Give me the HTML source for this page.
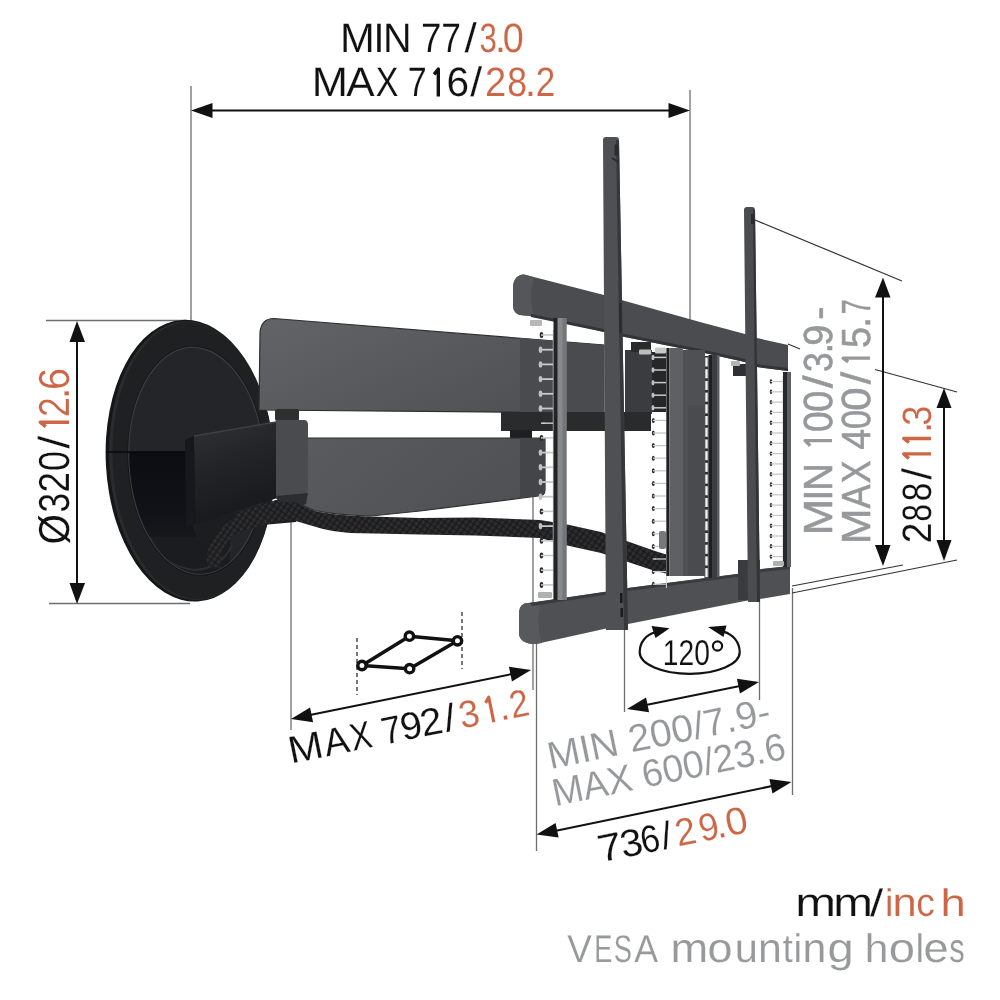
<!DOCTYPE html>
<html><head><meta charset="utf-8">
<style>
html,body{margin:0;padding:0;background:#fff;}
body{width:1000px;height:1000px;overflow:hidden;}
svg{display:block;-webkit-font-smoothing:antialiased;}
text{text-rendering:geometricPrecision;stroke:#fff;stroke-width:0.15px;}
svg{will-change:transform;}
text{font-family:"Liberation Sans",sans-serif;}
</style></head>
<body>
<svg width="1000" height="1000" viewBox="0 0 1000 1000">
<defs>
<linearGradient id="shF" x1="0" y1="0" x2="0.3" y2="1">
<stop offset="0" stop-color="#303134"/><stop offset="0.5" stop-color="#222326"/><stop offset="1" stop-color="#18191c"/>
</linearGradient>
<linearGradient id="armU" x1="0" y1="0" x2="1" y2="0.6">
<stop offset="0" stop-color="#636467"/><stop offset="0.45" stop-color="#5a5b5e"/><stop offset="1" stop-color="#505154"/>
</linearGradient>
<linearGradient id="armL" x1="0" y1="0" x2="1" y2="0.4">
<stop offset="0" stop-color="#5a5b5e"/><stop offset="1" stop-color="#505154"/>
</linearGradient>
<linearGradient id="darkG" x1="0" y1="0" x2="0" y2="1">
<stop offset="0" stop-color="#0b0d13"/><stop offset="0.7" stop-color="#101218"/><stop offset="1" stop-color="#17181c"/>
</linearGradient>
<pattern id="braid" width="5" height="5" patternUnits="userSpaceOnUse" patternTransform="rotate(35)">
<rect width="5" height="5" fill="#202022"/><rect x="0" y="0" width="2.5" height="5" fill="#2f2f32"/><rect x="0" y="2" width="5" height="0.8" fill="#151516"/>
</pattern>
</defs>
<rect width="1000" height="1000" fill="#fff"/>

<!-- ===== extension lines (gray) ===== -->
<g stroke="#6e6e6e" stroke-width="1.3" fill="none">
<line x1="191" y1="86" x2="191" y2="322"/>
<line x1="690" y1="90" x2="690" y2="330"/>
<line x1="46" y1="320.5" x2="186" y2="320.5"/>
<line x1="49" y1="603.5" x2="190" y2="603.5"/>
<line x1="291" y1="508" x2="291" y2="730"/>
<line x1="533" y1="497" x2="533" y2="690"/>
<line x1="536.5" y1="644" x2="536.5" y2="851"/>
<line x1="624.5" y1="626" x2="624.5" y2="712"/>
<line x1="759.5" y1="590" x2="759.5" y2="700"/>
<line x1="792.5" y1="588" x2="792.5" y2="795"/>
</g>
<g stroke="#333" stroke-width="1.2" fill="none">
<line x1="755" y1="220" x2="902" y2="281"/>
<line x1="788" y1="344" x2="800" y2="349"/>
<line x1="875" y1="369.5" x2="957" y2="392"/>
<line x1="792" y1="586" x2="903" y2="565"/>
<line x1="792" y1="593" x2="957" y2="560"/>
</g>

<!-- ===== wall plate ===== -->
<g transform="translate(190.1,460.7) rotate(-3)">
<ellipse cx="0" cy="0" rx="84.3" ry="141" fill="#151618"/>
<ellipse cx="1.5" cy="0" rx="82.3" ry="139.5" fill="#2a2b2e"/>
<ellipse cx="3" cy="0" rx="80.5" ry="138.5" fill="#1f2022"/>
</g>
<g transform="translate(196.5,460.8) rotate(-3)">
<ellipse cx="0" cy="0" rx="69" ry="115" fill="#141517"/>
<ellipse cx="0" cy="0" rx="67.5" ry="113.5" fill="#242528"/>
<ellipse cx="0" cy="0" rx="67.5" ry="113.5" fill="none" stroke="#3c3d41" stroke-width="1.2"/>
</g>
<clipPath id="innerClip"><ellipse cx="0" cy="0" rx="67" ry="113" transform="translate(196.5,460.8) rotate(-3)"/></clipPath>
<g clip-path="url(#innerClip)">
<rect x="120" y="452" width="100" height="86" fill="url(#darkG)"/>
<path d="M140,537 L230,537 L230,580 L140,580 Z" fill="#1b1c20"/>
<path d="M150,537 Q160,566 195,570 Q222,568 232,545" fill="none" stroke="#2c2d31" stroke-width="2"/>
</g>
<line x1="106" y1="452" x2="205" y2="452" stroke="#08080a" stroke-width="1.6"/>

<!-- ===== upper arm ===== -->
<path d="M274,318.5 L604,345 L604,413 L259,410 L260,333 Q261,318.5 274,318.5 Z" fill="url(#armU)" stroke="#2e2f31" stroke-width="1.2"/>
<path d="M520,338 L604,345 L604,413 L520,412 Z" fill="#4a4b4e"/>
<rect x="625" y="350" width="27" height="64" fill="#3b3c3f"/>
<rect x="652" y="352" width="14" height="60" fill="#262729"/>
<!-- elbow block under upper arm -->
<rect x="501" y="412" width="150" height="19" fill="#2a2b2d"/>
<rect x="510" y="430" width="22" height="9" fill="#1e1f21"/>
<!-- pivot at shoulder -->
<rect x="275" y="409" width="24" height="12" rx="2" fill="#2e2f31"/>

<!-- ===== lower arm ===== -->
<path d="M298,438 L545,438 L545,490 Q545,496 538,496 L420,511 L371,516 Q336,515 315,510.5 Q302,506 297,502 L298,438 Z" fill="url(#armL)" stroke="#2e2f31" stroke-width="1.2"/>
<path d="M520,438 L545,438 L545,490 Q545,496 538,496 L520,498 Z" fill="#444548"/>

<!-- ===== shoulder ===== -->
<path d="M185,440 L194,436 L195.5,524.5 L186,528 Z" fill="#17181b"/>
<path d="M194,436 L279,421.5 L279,497.5 L195.5,524.5 Z" fill="url(#shF)"/>
<path d="M194,436 L279,421.5" stroke="#3e3f42" stroke-width="1.5"/>
<path d="M276,420 L304,420 Q308,420 308,425 L308,489 Q308,496 301,496.5 L276,499 Z" fill="#4a4b4e"/>
<path d="M192,525 L280,499 L300,512 L296,522 L250,526 L200,546 Z" fill="#1c1d1f"/>

<path d="M276,496 L308,493 L306,504 L296,508 L280,506 Z" fill="#2c2d30"/>
<!-- ===== cable ===== -->
<path d="M236,513 L278,499.5 L283,502 Q292,502 297,503 Q305,507 315,511 Q336,515.5 371,516.5 L420,518 L475,517.5 L540,520 L565,524 L601,532 L655,551 L668,555 L668,574 L655,571 L601,553 L565,545 L540,538 L475,535.5 L420,534.5 L350,533 Q330,531 322,528.8 L294,520.4 L283,520 L240,521 Z" fill="url(#braid)"/>
<path d="M292,506 C265,508 245,512 232,520 C218,528 205,545 207,566 L221,568 C220,552 225,540 238,533 C255,526 275,522 294,519 Z" fill="url(#braid)"/>

<!-- ===== top crossbar ===== -->
<path d="M524,274.6 L604,295 L625,301 L700,322 L745,334 L757,338 L788,345 L788,371 L757,367 L745,362 L700,352 L625,337 L604,332 L543,317.5 L520,315 Q513,313 513,305 L513,287 Q514,275 524,274.6 Z" fill="#4b4c4f"/>
<path d="M524,274.6 Q514,275 513,287 L513,305 Q513,313 520,315 L535,316.6 Q528,300 534,277.2 Z" fill="#555659"/>
<path d="M604,332 L625,337 L700,352 L745,362 L757,367 L788,371 L788,368 L757,364 L745,359 L700,349 L625,334 L604,329 L531,314 L531,317 Z" fill="#333437"/>

<!-- ===== bottom crossbar ===== -->
<path d="M528,603 L604,592 L628,588 L745,573 L762,569 L790,566 L790,594 L760,599 L745,601 L628,624 L604,629 L536,644 Q520,644 519,634 L519,612 Q520,603 528,603 Z" fill="#4f5053"/>
<path d="M528,603 Q520,603 519,612 L519,634 Q520,644 536,644 L542,643 Q535,622 541,602 Z" fill="#58595c"/>
<path d="M530,603 L604,592 L628,588 L745,573 L762,569 L790,566 L790,569 L762,572 L745,576 L628,591 L604,595 L532,606 Z" fill="#3a3b3e"/>

<!-- ===== ladders (behind rails) ===== -->
<line x1="553.5" y1="330" x2="553.5" y2="598" stroke="#c8c8c8" stroke-width="1.4"/>
<line x1="541.5" y1="335.0" x2="553.0" y2="335.0" stroke="#c4c5c7" stroke-width="1.5"/>
<ellipse cx="541.5" cy="335.0" rx="1.8" ry="3.0" fill="#2a2a2c"/>
<line x1="541.0" y1="335.0" x2="544.5" y2="335.0" stroke="#d8d8d8" stroke-width="1.4"/>
<line x1="540.5" y1="349.7" x2="553.0" y2="349.7" stroke="#c8c9cb" stroke-width="1.8"/>
<ellipse cx="540.5" cy="349.7" rx="1.8" ry="3.2" fill="#bfc0c2"/>
<line x1="540.5" y1="364.4" x2="553.0" y2="364.4" stroke="#c8c9cb" stroke-width="1.8"/>
<ellipse cx="540.5" cy="364.4" rx="1.8" ry="3.2" fill="#bfc0c2"/>
<line x1="540.5" y1="379.1" x2="553.0" y2="379.1" stroke="#c8c9cb" stroke-width="1.8"/>
<ellipse cx="540.5" cy="379.1" rx="1.8" ry="3.2" fill="#bfc0c2"/>
<line x1="540.5" y1="393.8" x2="553.0" y2="393.8" stroke="#c8c9cb" stroke-width="1.8"/>
<ellipse cx="540.5" cy="393.8" rx="1.8" ry="3.2" fill="#bfc0c2"/>
<line x1="540.5" y1="408.5" x2="553.0" y2="408.5" stroke="#c8c9cb" stroke-width="1.8"/>
<ellipse cx="540.5" cy="408.5" rx="1.8" ry="3.2" fill="#bfc0c2"/>
<line x1="541.5" y1="423.2" x2="553.0" y2="423.2" stroke="#c4c5c7" stroke-width="1.5"/>
<ellipse cx="541.5" cy="423.2" rx="1.8" ry="3.0" fill="#2a2a2c"/>
<line x1="541.0" y1="423.2" x2="544.5" y2="423.2" stroke="#d8d8d8" stroke-width="1.4"/>
<line x1="541.5" y1="437.9" x2="553.0" y2="437.9" stroke="#c4c5c7" stroke-width="1.5"/>
<ellipse cx="541.5" cy="437.9" rx="1.8" ry="3.0" fill="#2a2a2c"/>
<line x1="541.0" y1="437.9" x2="544.5" y2="437.9" stroke="#d8d8d8" stroke-width="1.4"/>
<line x1="540.5" y1="452.6" x2="553.0" y2="452.6" stroke="#c8c9cb" stroke-width="1.8"/>
<ellipse cx="540.5" cy="452.6" rx="1.8" ry="3.2" fill="#bfc0c2"/>
<line x1="540.5" y1="467.3" x2="553.0" y2="467.3" stroke="#c8c9cb" stroke-width="1.8"/>
<ellipse cx="540.5" cy="467.3" rx="1.8" ry="3.2" fill="#bfc0c2"/>
<line x1="540.5" y1="482.0" x2="553.0" y2="482.0" stroke="#c8c9cb" stroke-width="1.8"/>
<ellipse cx="540.5" cy="482.0" rx="1.8" ry="3.2" fill="#bfc0c2"/>
<line x1="540.5" y1="496.7" x2="553.0" y2="496.7" stroke="#c8c9cb" stroke-width="1.8"/>
<ellipse cx="540.5" cy="496.7" rx="1.8" ry="3.2" fill="#bfc0c2"/>
<line x1="541.5" y1="511.4" x2="553.0" y2="511.4" stroke="#c4c5c7" stroke-width="1.5"/>
<ellipse cx="541.5" cy="511.4" rx="1.8" ry="3.0" fill="#2a2a2c"/>
<line x1="541.0" y1="511.4" x2="544.5" y2="511.4" stroke="#d8d8d8" stroke-width="1.4"/>
<line x1="540.5" y1="526.1" x2="553.0" y2="526.1" stroke="#c8c9cb" stroke-width="1.8"/>
<ellipse cx="540.5" cy="526.1" rx="1.8" ry="3.2" fill="#bfc0c2"/>
<line x1="541.5" y1="540.8" x2="553.0" y2="540.8" stroke="#c4c5c7" stroke-width="1.5"/>
<ellipse cx="541.5" cy="540.8" rx="1.8" ry="3.0" fill="#2a2a2c"/>
<line x1="541.0" y1="540.8" x2="544.5" y2="540.8" stroke="#d8d8d8" stroke-width="1.4"/>
<line x1="541.5" y1="555.5" x2="553.0" y2="555.5" stroke="#c4c5c7" stroke-width="1.5"/>
<ellipse cx="541.5" cy="555.5" rx="1.8" ry="3.0" fill="#2a2a2c"/>
<line x1="541.0" y1="555.5" x2="544.5" y2="555.5" stroke="#d8d8d8" stroke-width="1.4"/>
<line x1="541.5" y1="570.2" x2="553.0" y2="570.2" stroke="#c4c5c7" stroke-width="1.5"/>
<ellipse cx="541.5" cy="570.2" rx="1.8" ry="3.0" fill="#2a2a2c"/>
<line x1="541.0" y1="570.2" x2="544.5" y2="570.2" stroke="#d8d8d8" stroke-width="1.4"/>
<line x1="541.5" y1="584.9" x2="553.0" y2="584.9" stroke="#c4c5c7" stroke-width="1.5"/>
<ellipse cx="541.5" cy="584.9" rx="1.8" ry="3.0" fill="#2a2a2c"/>
<line x1="541.0" y1="584.9" x2="544.5" y2="584.9" stroke="#d8d8d8" stroke-width="1.4"/>
<line x1="666.5" y1="352" x2="666.5" y2="588" stroke="#cfcfcf" stroke-width="1"/>
<line x1="653.0" y1="357.4" x2="667.0" y2="357.4" stroke="#c8c9cb" stroke-width="1.5"/>
<ellipse cx="653.0" cy="357.4" rx="1.5" ry="2.7" fill="#bfc0c2"/>
<line x1="653.0" y1="370.0" x2="667.0" y2="370.0" stroke="#c8c9cb" stroke-width="1.5"/>
<ellipse cx="653.0" cy="370.0" rx="1.5" ry="2.7" fill="#bfc0c2"/>
<line x1="653.0" y1="382.6" x2="667.0" y2="382.6" stroke="#c8c9cb" stroke-width="1.5"/>
<ellipse cx="653.0" cy="382.6" rx="1.5" ry="2.7" fill="#bfc0c2"/>
<line x1="653.0" y1="395.2" x2="667.0" y2="395.2" stroke="#c8c9cb" stroke-width="1.5"/>
<ellipse cx="653.0" cy="395.2" rx="1.5" ry="2.7" fill="#bfc0c2"/>
<line x1="653.0" y1="407.8" x2="667.0" y2="407.8" stroke="#c8c9cb" stroke-width="1.5"/>
<ellipse cx="653.0" cy="407.8" rx="1.5" ry="2.7" fill="#bfc0c2"/>
<line x1="653.3" y1="420.4" x2="667.0" y2="420.4" stroke="#c4c5c7" stroke-width="1.3"/>
<ellipse cx="653.3" cy="420.4" rx="1.5" ry="2.5" fill="#2a2a2c"/>
<line x1="652.8" y1="420.4" x2="655.8" y2="420.4" stroke="#d8d8d8" stroke-width="1.2"/>
<line x1="653.3" y1="433.0" x2="667.0" y2="433.0" stroke="#c4c5c7" stroke-width="1.3"/>
<ellipse cx="653.3" cy="433.0" rx="1.5" ry="2.5" fill="#2a2a2c"/>
<line x1="652.8" y1="433.0" x2="655.8" y2="433.0" stroke="#d8d8d8" stroke-width="1.2"/>
<line x1="653.3" y1="445.6" x2="667.0" y2="445.6" stroke="#c4c5c7" stroke-width="1.3"/>
<ellipse cx="653.3" cy="445.6" rx="1.5" ry="2.5" fill="#2a2a2c"/>
<line x1="652.8" y1="445.6" x2="655.8" y2="445.6" stroke="#d8d8d8" stroke-width="1.2"/>
<line x1="653.3" y1="458.2" x2="667.0" y2="458.2" stroke="#c4c5c7" stroke-width="1.3"/>
<ellipse cx="653.3" cy="458.2" rx="1.5" ry="2.5" fill="#2a2a2c"/>
<line x1="652.8" y1="458.2" x2="655.8" y2="458.2" stroke="#d8d8d8" stroke-width="1.2"/>
<line x1="653.3" y1="470.8" x2="667.0" y2="470.8" stroke="#c4c5c7" stroke-width="1.3"/>
<ellipse cx="653.3" cy="470.8" rx="1.5" ry="2.5" fill="#2a2a2c"/>
<line x1="652.8" y1="470.8" x2="655.8" y2="470.8" stroke="#d8d8d8" stroke-width="1.2"/>
<line x1="653.3" y1="483.4" x2="667.0" y2="483.4" stroke="#c4c5c7" stroke-width="1.3"/>
<ellipse cx="653.3" cy="483.4" rx="1.5" ry="2.5" fill="#2a2a2c"/>
<line x1="652.8" y1="483.4" x2="655.8" y2="483.4" stroke="#d8d8d8" stroke-width="1.2"/>
<line x1="653.3" y1="496.0" x2="667.0" y2="496.0" stroke="#c4c5c7" stroke-width="1.3"/>
<ellipse cx="653.3" cy="496.0" rx="1.5" ry="2.5" fill="#2a2a2c"/>
<line x1="652.8" y1="496.0" x2="655.8" y2="496.0" stroke="#d8d8d8" stroke-width="1.2"/>
<line x1="653.3" y1="508.6" x2="667.0" y2="508.6" stroke="#c4c5c7" stroke-width="1.3"/>
<ellipse cx="653.3" cy="508.6" rx="1.5" ry="2.5" fill="#2a2a2c"/>
<line x1="652.8" y1="508.6" x2="655.8" y2="508.6" stroke="#d8d8d8" stroke-width="1.2"/>
<line x1="653.3" y1="521.2" x2="667.0" y2="521.2" stroke="#c4c5c7" stroke-width="1.3"/>
<ellipse cx="653.3" cy="521.2" rx="1.5" ry="2.5" fill="#2a2a2c"/>
<line x1="652.8" y1="521.2" x2="655.8" y2="521.2" stroke="#d8d8d8" stroke-width="1.2"/>
<line x1="653.3" y1="533.8" x2="667.0" y2="533.8" stroke="#c4c5c7" stroke-width="1.3"/>
<ellipse cx="653.3" cy="533.8" rx="1.5" ry="2.5" fill="#2a2a2c"/>
<line x1="652.8" y1="533.8" x2="655.8" y2="533.8" stroke="#d8d8d8" stroke-width="1.2"/>
<line x1="653.3" y1="546.4" x2="667.0" y2="546.4" stroke="#c4c5c7" stroke-width="1.3"/>
<ellipse cx="653.3" cy="546.4" rx="1.5" ry="2.5" fill="#2a2a2c"/>
<line x1="652.8" y1="546.4" x2="655.8" y2="546.4" stroke="#d8d8d8" stroke-width="1.2"/>
<line x1="653.3" y1="559.0" x2="667.0" y2="559.0" stroke="#c4c5c7" stroke-width="1.3"/>
<ellipse cx="653.3" cy="559.0" rx="1.5" ry="2.5" fill="#2a2a2c"/>
<line x1="652.8" y1="559.0" x2="655.8" y2="559.0" stroke="#d8d8d8" stroke-width="1.2"/>
<line x1="653.3" y1="571.6" x2="667.0" y2="571.6" stroke="#c4c5c7" stroke-width="1.3"/>
<ellipse cx="653.3" cy="571.6" rx="1.5" ry="2.5" fill="#2a2a2c"/>
<line x1="652.8" y1="571.6" x2="655.8" y2="571.6" stroke="#d8d8d8" stroke-width="1.2"/>
<line x1="653.3" y1="584.2" x2="667.0" y2="584.2" stroke="#c4c5c7" stroke-width="1.3"/>
<ellipse cx="653.3" cy="584.2" rx="1.5" ry="2.5" fill="#2a2a2c"/>
<line x1="652.8" y1="584.2" x2="655.8" y2="584.2" stroke="#d8d8d8" stroke-width="1.2"/>
<rect x="704.5" y="356" width="4.0" height="222" fill="#2e2f31"/>
<rect x="705.3" y="357.5" width="2.4" height="9.1" fill="#f4f4f4"/>
<rect x="705.3" y="369.2" width="2.4" height="9.1" fill="#f4f4f4"/>
<rect x="705.3" y="380.9" width="2.4" height="9.1" fill="#f4f4f4"/>
<rect x="705.3" y="392.6" width="2.4" height="9.1" fill="#f4f4f4"/>
<rect x="705.3" y="404.3" width="2.4" height="9.1" fill="#f4f4f4"/>
<rect x="705.3" y="416.0" width="2.4" height="9.1" fill="#f4f4f4"/>
<rect x="705.3" y="427.7" width="2.4" height="9.1" fill="#f4f4f4"/>
<rect x="705.3" y="439.4" width="2.4" height="9.1" fill="#f4f4f4"/>
<rect x="705.3" y="451.1" width="2.4" height="9.1" fill="#f4f4f4"/>
<rect x="705.3" y="462.8" width="2.4" height="9.1" fill="#f4f4f4"/>
<rect x="705.3" y="474.5" width="2.4" height="9.1" fill="#f4f4f4"/>
<rect x="705.3" y="486.2" width="2.4" height="9.1" fill="#f4f4f4"/>
<rect x="705.3" y="497.9" width="2.4" height="9.1" fill="#f4f4f4"/>
<rect x="705.3" y="509.6" width="2.4" height="9.1" fill="#f4f4f4"/>
<rect x="705.3" y="521.3" width="2.4" height="9.1" fill="#f4f4f4"/>
<rect x="705.3" y="533.0" width="2.4" height="9.1" fill="#f4f4f4"/>
<rect x="705.3" y="544.7" width="2.4" height="9.1" fill="#f4f4f4"/>
<rect x="705.3" y="556.4" width="2.4" height="9.1" fill="#f4f4f4"/>
<rect x="705.3" y="568.1" width="2.4" height="9.1" fill="#f4f4f4"/>
<line x1="783" y1="376" x2="783" y2="566" stroke="#d0d0d0" stroke-width="1"/>
<line x1="771.0" y1="381.5" x2="783.0" y2="381.5" stroke="#c4c5c7" stroke-width="1.2"/>
<ellipse cx="771.0" cy="381.5" rx="1.3" ry="2.2" fill="#2a2a2c"/>
<line x1="770.5" y1="381.5" x2="773.2" y2="381.5" stroke="#d8d8d8" stroke-width="1.1"/>
<line x1="771.0" y1="391.8" x2="783.0" y2="391.8" stroke="#c4c5c7" stroke-width="1.2"/>
<ellipse cx="771.0" cy="391.8" rx="1.3" ry="2.2" fill="#2a2a2c"/>
<line x1="770.5" y1="391.8" x2="773.2" y2="391.8" stroke="#d8d8d8" stroke-width="1.1"/>
<line x1="771.0" y1="402.1" x2="783.0" y2="402.1" stroke="#c4c5c7" stroke-width="1.2"/>
<ellipse cx="771.0" cy="402.1" rx="1.3" ry="2.2" fill="#2a2a2c"/>
<line x1="770.5" y1="402.1" x2="773.2" y2="402.1" stroke="#d8d8d8" stroke-width="1.1"/>
<line x1="771.0" y1="412.4" x2="783.0" y2="412.4" stroke="#c4c5c7" stroke-width="1.2"/>
<ellipse cx="771.0" cy="412.4" rx="1.3" ry="2.2" fill="#2a2a2c"/>
<line x1="770.5" y1="412.4" x2="773.2" y2="412.4" stroke="#d8d8d8" stroke-width="1.1"/>
<line x1="771.0" y1="422.7" x2="783.0" y2="422.7" stroke="#c4c5c7" stroke-width="1.2"/>
<ellipse cx="771.0" cy="422.7" rx="1.3" ry="2.2" fill="#2a2a2c"/>
<line x1="770.5" y1="422.7" x2="773.2" y2="422.7" stroke="#d8d8d8" stroke-width="1.1"/>
<line x1="771.0" y1="433.0" x2="783.0" y2="433.0" stroke="#c4c5c7" stroke-width="1.2"/>
<ellipse cx="771.0" cy="433.0" rx="1.3" ry="2.2" fill="#2a2a2c"/>
<line x1="770.5" y1="433.0" x2="773.2" y2="433.0" stroke="#d8d8d8" stroke-width="1.1"/>
<line x1="771.0" y1="443.3" x2="783.0" y2="443.3" stroke="#c4c5c7" stroke-width="1.2"/>
<ellipse cx="771.0" cy="443.3" rx="1.3" ry="2.2" fill="#2a2a2c"/>
<line x1="770.5" y1="443.3" x2="773.2" y2="443.3" stroke="#d8d8d8" stroke-width="1.1"/>
<line x1="771.0" y1="453.6" x2="783.0" y2="453.6" stroke="#c4c5c7" stroke-width="1.2"/>
<ellipse cx="771.0" cy="453.6" rx="1.3" ry="2.2" fill="#2a2a2c"/>
<line x1="770.5" y1="453.6" x2="773.2" y2="453.6" stroke="#d8d8d8" stroke-width="1.1"/>
<line x1="771.0" y1="463.9" x2="783.0" y2="463.9" stroke="#c4c5c7" stroke-width="1.2"/>
<ellipse cx="771.0" cy="463.9" rx="1.3" ry="2.2" fill="#2a2a2c"/>
<line x1="770.5" y1="463.9" x2="773.2" y2="463.9" stroke="#d8d8d8" stroke-width="1.1"/>
<line x1="771.0" y1="474.2" x2="783.0" y2="474.2" stroke="#c4c5c7" stroke-width="1.2"/>
<ellipse cx="771.0" cy="474.2" rx="1.3" ry="2.2" fill="#2a2a2c"/>
<line x1="770.5" y1="474.2" x2="773.2" y2="474.2" stroke="#d8d8d8" stroke-width="1.1"/>
<line x1="771.0" y1="484.5" x2="783.0" y2="484.5" stroke="#c4c5c7" stroke-width="1.2"/>
<ellipse cx="771.0" cy="484.5" rx="1.3" ry="2.2" fill="#2a2a2c"/>
<line x1="770.5" y1="484.5" x2="773.2" y2="484.5" stroke="#d8d8d8" stroke-width="1.1"/>
<line x1="771.0" y1="494.8" x2="783.0" y2="494.8" stroke="#c4c5c7" stroke-width="1.2"/>
<ellipse cx="771.0" cy="494.8" rx="1.3" ry="2.2" fill="#2a2a2c"/>
<line x1="770.5" y1="494.8" x2="773.2" y2="494.8" stroke="#d8d8d8" stroke-width="1.1"/>
<line x1="771.0" y1="505.1" x2="783.0" y2="505.1" stroke="#c4c5c7" stroke-width="1.2"/>
<ellipse cx="771.0" cy="505.1" rx="1.3" ry="2.2" fill="#2a2a2c"/>
<line x1="770.5" y1="505.1" x2="773.2" y2="505.1" stroke="#d8d8d8" stroke-width="1.1"/>
<line x1="771.0" y1="515.4" x2="783.0" y2="515.4" stroke="#c4c5c7" stroke-width="1.2"/>
<ellipse cx="771.0" cy="515.4" rx="1.3" ry="2.2" fill="#2a2a2c"/>
<line x1="770.5" y1="515.4" x2="773.2" y2="515.4" stroke="#d8d8d8" stroke-width="1.1"/>
<line x1="771.0" y1="525.7" x2="783.0" y2="525.7" stroke="#c4c5c7" stroke-width="1.2"/>
<ellipse cx="771.0" cy="525.7" rx="1.3" ry="2.2" fill="#2a2a2c"/>
<line x1="770.5" y1="525.7" x2="773.2" y2="525.7" stroke="#d8d8d8" stroke-width="1.1"/>
<line x1="771.0" y1="536.0" x2="783.0" y2="536.0" stroke="#c4c5c7" stroke-width="1.2"/>
<ellipse cx="771.0" cy="536.0" rx="1.3" ry="2.2" fill="#2a2a2c"/>
<line x1="770.5" y1="536.0" x2="773.2" y2="536.0" stroke="#d8d8d8" stroke-width="1.1"/>
<line x1="771.0" y1="546.3" x2="783.0" y2="546.3" stroke="#c4c5c7" stroke-width="1.2"/>
<ellipse cx="771.0" cy="546.3" rx="1.3" ry="2.2" fill="#2a2a2c"/>
<line x1="770.5" y1="546.3" x2="773.2" y2="546.3" stroke="#d8d8d8" stroke-width="1.1"/>
<line x1="771.0" y1="556.6" x2="783.0" y2="556.6" stroke="#c4c5c7" stroke-width="1.2"/>
<ellipse cx="771.0" cy="556.6" rx="1.3" ry="2.2" fill="#2a2a2c"/>
<line x1="770.5" y1="556.6" x2="773.2" y2="556.6" stroke="#d8d8d8" stroke-width="1.1"/>

<!-- ===== rails ===== -->
<rect x="555" y="318" width="11.5" height="282" fill="#88898c"/>
<rect x="562.5" y="318" width="4" height="282" fill="#75767a"/>
<rect x="553.5" y="318" width="4" height="282" fill="#222325"/>
<rect x="530" y="320" width="12" height="6" rx="1" fill="#b8b8b8"/>
<rect x="538" y="592" width="14" height="6" rx="1" fill="#b0b0b0"/>

<rect x="666.4" y="348" width="3" height="228" fill="#1e1f21"/>
<rect x="669.4" y="348" width="13.6" height="228" fill="#5f6063"/>
<rect x="683" y="350" width="22" height="226" fill="#4f5053"/>
<rect x="688" y="405" width="16" height="170" rx="1.5" fill="#4a4b4e"/>
<rect x="708.5" y="355" width="3.5" height="223" fill="#1e1f21"/>
<rect x="712" y="355" width="5" height="222" fill="#3c3d40"/>
<rect x="717" y="355" width="2.5" height="222" fill="#5a5b5e"/>
<rect x="733" y="364" width="13" height="12" fill="#2f3032"/>
<rect x="631" y="342" width="20" height="10" fill="#2a2b2d"/>
<rect x="639" y="349.5" width="12" height="5" rx="1" fill="#bdbdbd"/>
<rect x="655" y="347.5" width="11" height="6" rx="1" fill="#c8c8c8"/>
<rect x="731" y="361" width="9" height="5" rx="1" fill="#b5b5b5"/>
<rect x="659" y="531" width="7" height="18" rx="2" fill="#77787b"/>

<rect x="783" y="372" width="4" height="195" fill="#27282a"/>
<rect x="787" y="372" width="4" height="195" fill="#5f6063"/>
<rect x="773" y="561" width="11" height="5" rx="1" fill="#b0b0b0"/>
<rect x="738" y="560" width="22" height="40" fill="#3a3b3e"/>

<!-- ===== posts ===== -->
<path d="M603,140 Q603,137 606,137 L616,137 Q619,137 619,140 L628,630 L606,630 Z" fill="#4f5053"/>
<path d="M619,140 L628,630 L624,630 L616,140 Z" fill="#36373a"/>
<rect x="614.5" y="144.5" width="3.5" height="11" fill="#2a2b2d"/><path d="M612,158 L618,162" stroke="#2a2b2d" stroke-width="2"/>
<rect x="619" y="303" width="2.5" height="30" fill="#2a2b2d"/>
<rect x="620" y="593" width="2.5" height="10" fill="#1a1a1c"/>
<rect x="620.5" y="608" width="2.5" height="9" fill="#1a1a1c"/>
<path d="M744,210 Q744,207 747,207 L752,207 Q755,207 755,210 L760,602 L748,602 Z" fill="#4b4c4f"/>
<path d="M755,210 L760,602 L757,602 L753,210 Z" fill="#333437"/>
<rect x="751" y="214" width="3" height="10" fill="#2a2b2d"/>

<!-- ===== dimension lines (black) ===== -->
<g stroke="#111" stroke-width="2" fill="none">
<line x1="205" y1="110.5" x2="676" y2="110.5"/>
<line x1="77" y1="335" x2="77" y2="590"/>
<line x1="883" y1="290" x2="883" y2="553"/>
<line x1="944" y1="400" x2="944" y2="548"/>
<line x1="305" y1="716" x2="517" y2="673"/>
<line x1="641" y1="706" x2="745" y2="685"/>
<line x1="550" y1="832" x2="777" y2="785"/>
</g>
<g fill="#111">
<polygon points="191,110.5 212.5,103 212.5,118"/>
<polygon points="690,110.5 668.5,103 668.5,118"/>
<polygon points="77,321 69.5,342 85,342"/>
<polygon points="77,604 69.5,583 85,583"/>
<polygon points="883,277.5 875,297.5 890.5,297.5"/>
<polygon points="883,566 875,545 890.5,545"/>
<polygon points="944,388 936.5,408 951.5,408"/>
<polygon points="944,561 936.5,540 951.5,540"/>
</g>

<!-- angled dims -->
<g fill="#111">
<g transform="translate(291,719) rotate(-11.55)"><polygon points="0,0 21,-7.5 21,7.5"/></g>
<g transform="translate(531,670) rotate(-11.55)"><polygon points="0,0 -21,-7.5 -21,7.5"/></g>
<g transform="translate(627,709) rotate(-11.55)"><polygon points="0,0 21,-7.5 21,7.5"/></g>
<g transform="translate(759,682) rotate(-11.55)"><polygon points="0,0 -21,-7.5 -21,7.5"/></g>
<g transform="translate(536.5,834.5) rotate(-11.6)"><polygon points="0,0 21,-7.5 21,7.5"/></g>
<g transform="translate(791.5,782) rotate(-11.6)"><polygon points="0,0 -21,-7.5 -21,7.5"/></g>
</g>
<!-- 120 deg -->
<path d="M655,632.3 C646,635 639.7,642 639.7,652.2 A50 21.6 0 0 0 739.7,652.2 C739.7,642 733,634.5 723.5,631.6" fill="none" stroke="#111" stroke-width="2.2"/>
<polygon points="669.6,628.2 651.5,626 655.5,638" fill="#111"/>
<polygon points="708,627 726.5,625.5 723.5,637" fill="#111"/>
<text x="662.8" y="665" font-size="35.9" fill="#111" textLength="47" lengthAdjust="spacingAndGlyphs">120</text><circle cx="717.5" cy="646" r="4.6" fill="none" stroke="#111" stroke-width="2.2"/>
<!-- VESA icon -->
<g stroke="#555" stroke-width="1.6" stroke-dasharray="4 3">
<line x1="357" y1="638" x2="357" y2="695"/>
<line x1="462" y1="612" x2="462" y2="669"/>
</g>
<g stroke="#111" stroke-width="3.6" fill="none" stroke-linejoin="round">
<polygon points="362,665.5 409.4,636.2 457.5,640.8 409.6,668.7"/>
</g>
<g stroke="#111" stroke-width="3.4" fill="#fff">
<circle cx="362" cy="665.5" r="4.2"/>
<circle cx="409.4" cy="636.2" r="4.2"/>
<circle cx="457.5" cy="640.8" r="4.2"/>
<circle cx="409.6" cy="668.7" r="4.2"/>
</g>

<!-- ===== texts ===== -->
<g transform="translate(292,763.5) rotate(-11.55)"><text transform="translate(-1.03,0) scale(1.087,1.000)" font-size="38.5" fill="#111">M</text>
<text transform="translate(35.33,0) scale(0.979,1.000)" font-size="38.5" fill="#111">A</text>
<text transform="translate(62.38,0) scale(0.829,1.000)" font-size="38.5" fill="#111">X</text>
<text transform="translate(94.14,0) scale(0.943,1.000)" font-size="38.5" fill="#111">7</text>
<text transform="translate(113.26,0) scale(1.018,1.000)" font-size="38.5" fill="#111">9</text>
<text transform="translate(133.70,0) scale(1.032,1.000)" font-size="38.5" fill="#111">2</text>
<text transform="translate(157.80,0) scale(1.103,1.000)" font-size="38.5" fill="#111">/</text>
<text transform="translate(173.22,0) scale(0.942,1.000)" font-size="38.5" fill="#cd6646">3</text>
<path d="M201.75,-20.66 L206.02,-25.54 L206.02,0" fill="none" stroke="#cd6646" stroke-width="3.16" stroke-linejoin="round" style="stroke:#cd6646"/>
<text x="213.15" y="0" font-size="38.5" fill="#cd6646">.</text>
<text transform="translate(224.87,0) scale(0.895,1.000)" font-size="38.5" fill="#cd6646">2</text></g>
<text transform="translate(550.13,769.22) rotate(-11.6)" font-size="38.5" fill="#96989b" textLength="226.9" lengthAdjust="spacingAndGlyphs">MIN 200/7.9-</text>
<text transform="translate(554.9,806.25) rotate(-11.6)" font-size="38.5" fill="#96989b" textLength="237.7" lengthAdjust="spacingAndGlyphs">MAX 600/23.6</text>
<g transform="translate(603,862) rotate(-11.6)"><text transform="translate(-2.66,0) scale(1.143,1.000)" font-size="38.5" fill="#111">7</text>
<text transform="translate(20.37,0) scale(1.041,1.000)" font-size="38.5" fill="#111">3</text>
<text transform="translate(41.15,0) scale(0.895,1.000)" font-size="38.5" fill="#111">6</text>
<text x="62.10" y="0" font-size="38.5" fill="#111">/</text>
<text transform="translate(76.63,0) scale(0.964,1.000)" font-size="38.5" fill="#cd6646">2</text>
<text transform="translate(100.52,0) scale(0.933,1.000)" font-size="38.5" fill="#cd6646">9</text>
<text x="117.15" y="0" font-size="38.5" fill="#cd6646">.</text>
<text transform="translate(127.76,0) scale(1.027,1.000)" font-size="38.5" fill="#cd6646">0</text></g>
<g transform="translate(832,535) rotate(-90)"><text transform="translate(-0.37,0) scale(1.071,1.000)" font-size="40.6" fill="#96989b" style="stroke:#96989b;stroke-width:0.6px">M</text>
<text x="34.21" y="0" font-size="40.6" fill="#96989b" style="stroke:#96989b;stroke-width:0.6px">I</text>
<text transform="translate(44.27,0) scale(0.939,1.000)" font-size="40.6" fill="#96989b" style="stroke:#96989b;stroke-width:0.6px">N</text>
<path d="M89.30,-21.79 L94.34,-26.93 L94.34,0" fill="none" stroke="#96989b" stroke-width="3.33" stroke-linejoin="round" style="stroke:#96989b"/>
<text transform="translate(102.95,0) scale(0.912,1.000)" font-size="40.6" fill="#96989b" style="stroke:#96989b;stroke-width:0.6px">0</text>
<text transform="translate(122.90,0) scale(0.943,1.000)" font-size="40.6" fill="#96989b" style="stroke:#96989b;stroke-width:0.6px">0</text>
<text transform="translate(146.80,0) scale(1.135,1.000)" font-size="40.6" fill="#96989b" style="stroke:#96989b;stroke-width:0.6px">/</text>
<text transform="translate(163.06,0) scale(0.868,1.000)" font-size="40.6" fill="#96989b" style="stroke:#96989b;stroke-width:0.6px">3</text>
<text x="181.36" y="0" font-size="40.6" fill="#96989b" style="stroke:#96989b;stroke-width:0.6px">.</text>
<text transform="translate(189.23,0) scale(0.928,1.000)" font-size="40.6" fill="#96989b" style="stroke:#96989b;stroke-width:0.6px">9</text>
<text transform="translate(215.25,0) scale(0.969,1.000)" font-size="40.6" fill="#96989b" style="stroke:#96989b;stroke-width:0.6px">-</text></g>
<g transform="translate(870,544.4) rotate(-90)"><text transform="translate(0.27,0) scale(1.060,1.000)" font-size="40.6" fill="#96989b" style="stroke:#96989b;stroke-width:0.6px">M</text>
<text transform="translate(35.93,0) scale(0.888,1.000)" font-size="40.6" fill="#96989b" style="stroke:#96989b;stroke-width:0.6px">A</text>
<text transform="translate(61.23,0) scale(0.841,1.000)" font-size="40.6" fill="#96989b" style="stroke:#96989b;stroke-width:0.6px">X</text>
<text transform="translate(94.95,0) scale(0.914,1.000)" font-size="40.6" fill="#96989b" style="stroke:#96989b;stroke-width:0.6px">4</text>
<text transform="translate(115.45,0) scale(0.850,1.000)" font-size="40.6" fill="#96989b" style="stroke:#96989b;stroke-width:0.6px">0</text>
<text transform="translate(133.77,0) scale(1.031,1.000)" font-size="40.6" fill="#96989b" style="stroke:#96989b;stroke-width:0.6px">0</text>
<text transform="translate(160.10,0) scale(1.082,1.000)" font-size="40.6" fill="#96989b" style="stroke:#96989b;stroke-width:0.6px">/</text>
<path d="M182.50,-21.79 L186.24,-26.93 L186.24,0" fill="none" stroke="#96989b" stroke-width="3.33" stroke-linejoin="round" style="stroke:#96989b"/>
<text transform="translate(196.28,0) scale(0.935,1.000)" font-size="40.6" fill="#96989b" style="stroke:#96989b;stroke-width:0.6px">5</text>
<text x="216.46" y="0" font-size="40.6" fill="#96989b" style="stroke:#96989b;stroke-width:0.6px">.</text>
<text transform="translate(230.22,0) scale(0.661,1.000)" font-size="40.6" fill="#96989b" style="stroke:#96989b;stroke-width:0.6px">7</text></g>
<g transform="translate(931,543.6) rotate(-90)"><text transform="translate(0.23,0) scale(0.903,1.000)" font-size="41.1" fill="#111">2</text>
<text transform="translate(22.03,0) scale(0.767,1.000)" font-size="41.1" fill="#111">8</text>
<text transform="translate(42.36,0) scale(0.809,1.000)" font-size="41.1" fill="#111">8</text>
<text transform="translate(64.20,0) scale(0.981,1.000)" font-size="41.1" fill="#111">/</text>
<path d="M85.01,-22.06 L89.71,-27.27 L89.71,0" fill="none" stroke="#cd6646" stroke-width="3.37" stroke-linejoin="round" style="stroke:#cd6646"/>
<path d="M101.11,-22.06 L105.11,-27.27 L105.11,0" fill="none" stroke="#cd6646" stroke-width="3.37" stroke-linejoin="round" style="stroke:#cd6646"/>
<text x="110.69" y="0" font-size="41.1" fill="#cd6646">.</text>
<text transform="translate(117.82,0) scale(0.883,1.000)" font-size="41.1" fill="#cd6646">3</text></g>
<text transform="translate(340.07,52) scale(1.018,1.000)" font-size="41.1" fill="#111">M</text>
<text x="373.19" y="52" font-size="41.1" fill="#111">I</text>
<text transform="translate(383.05,52) scale(0.963,1.000)" font-size="41.1" fill="#111">N</text>
<text transform="translate(421.12,52) scale(0.894,1.000)" font-size="41.1" fill="#111">7</text>
<text transform="translate(441.28,52) scale(0.862,1.000)" font-size="41.1" fill="#111">7</text>
<text transform="translate(464.60,52) scale(1.068,1.000)" font-size="41.1" fill="#111">/</text>
<text transform="translate(479.61,52) scale(0.760,1.000)" font-size="41.1" fill="#cd6646">3</text>
<text x="494.84" y="52" font-size="41.1" fill="#cd6646">.</text>
<text transform="translate(502.72,52) scale(0.921,1.000)" font-size="41.1" fill="#cd6646">0</text>
<text transform="translate(311.63,96.4) scale(1.058,1.000)" font-size="41.1" fill="#111">M</text>
<text transform="translate(346.32,96.4) scale(1.035,1.000)" font-size="41.1" fill="#111">A</text>
<text transform="translate(375.64,96.4) scale(0.827,1.000)" font-size="41.1" fill="#111">X</text>
<text transform="translate(407.65,96.4) scale(0.830,1.000)" font-size="41.1" fill="#111">7</text>
<path d="M434.11,74.34 L438.31,69.13 L438.31,96.4" fill="none" stroke="#111" stroke-width="3.37" stroke-linejoin="round" style="stroke:#111"/>
<text transform="translate(446.43,96.4) scale(0.991,1.000)" font-size="41.1" fill="#111">6</text>
<text transform="translate(470.20,96.4) scale(1.033,1.000)" font-size="41.1" fill="#111">/</text>
<text transform="translate(485.08,96.4) scale(0.929,1.000)" font-size="41.1" fill="#cd6646">2</text>
<text transform="translate(507.15,96.4) scale(0.866,1.000)" font-size="41.1" fill="#cd6646">8</text>
<text x="524.64" y="96.4" font-size="41.1" fill="#cd6646">.</text>
<text transform="translate(535.63,96.4) scale(0.855,1.000)" font-size="41.1" fill="#cd6646">2</text>

<g transform="translate(69,544) rotate(-90)"><text transform="translate(-0.45,0) scale(0.902,1.000)" font-size="43.3" fill="#111">Ø</text>
<text transform="translate(31.56,0) scale(0.813,1.000)" font-size="43.3" fill="#111">3</text>
<text transform="translate(51.56,0) scale(0.847,1.000)" font-size="43.3" fill="#111">2</text>
<text transform="translate(72.99,0) scale(0.831,1.000)" font-size="43.3" fill="#111">0</text>
<text transform="translate(95.40,0) scale(1.056,1.000)" font-size="43.3" fill="#111">/</text>
<path d="M117.47,-23.24 L121.82,-28.72 L121.82,0" fill="none" stroke="#cd6646" stroke-width="3.55" stroke-linejoin="round" style="stroke:#cd6646"/>
<text transform="translate(127.11,0) scale(0.821,1.000)" font-size="43.3" fill="#cd6646">2</text>
<text x="144.73" y="0" font-size="43.3" fill="#cd6646">.</text>
<text transform="translate(153.90,0) scale(0.911,1.000)" font-size="43.3" fill="#cd6646">6</text></g>

<text transform="translate(795.25,915.5) scale(1.288,1.056)" font-size="38.0" fill="#111">m</text>
<text transform="translate(833.13,915.5) scale(1.254,1.056)" font-size="38.0" fill="#111">m</text>
<text transform="translate(869.90,915.5) scale(1.241,1.000)" font-size="38.0" fill="#111">/</text>
<text transform="translate(884.94,915.5) scale(1.000,1.010)" font-size="38.0" fill="#cd6646">i</text>
<text transform="translate(892.51,915.5) scale(1.146,1.056)" font-size="38.0" fill="#cd6646">n</text>
<text transform="translate(916.32,915.5) scale(0.977,1.056)" font-size="38.0" fill="#cd6646">c</text>
<text transform="translate(940.44,915.5) scale(1.198,1.010)" font-size="38.0" fill="#cd6646">h</text>
<text transform="translate(567.24,962) scale(0.955,1.000)" font-size="38.5" fill="#98999b">V</text>
<text transform="translate(594.18,962) scale(0.704,1.000)" font-size="38.5" fill="#98999b">E</text>
<text transform="translate(613.66,962) scale(0.708,1.000)" font-size="38.5" fill="#98999b">S</text>
<text transform="translate(634.33,962) scale(0.928,1.000)" font-size="38.5" fill="#98999b">A</text>
<text transform="translate(670.40,962) scale(1.175,1.063)" font-size="38.5" fill="#98999b">m</text>
<text transform="translate(707.51,962) scale(1.166,1.063)" font-size="38.5" fill="#98999b">o</text>
<text transform="translate(734.69,962) scale(1.082,1.063)" font-size="38.5" fill="#98999b">u</text>
<text transform="translate(758.05,962) scale(1.113,1.063)" font-size="38.5" fill="#98999b">n</text>
<text transform="translate(782.85,962) scale(0.936,1.030)" font-size="38.5" fill="#98999b">t</text>
<text transform="translate(793.48,962) scale(1.000,1.030)" font-size="38.5" fill="#98999b">i</text>
<text transform="translate(802.55,962) scale(1.113,1.063)" font-size="38.5" fill="#98999b">n</text>
<text transform="translate(827.42,962) scale(1.224,1.063)" font-size="38.5" fill="#98999b">g</text>
<text transform="translate(864.66,962) scale(1.102,1.030)" font-size="38.5" fill="#98999b">h</text>
<text transform="translate(888.72,962) scale(1.227,1.063)" font-size="38.5" fill="#98999b">o</text>
<text transform="translate(915.41,962) scale(1.000,1.030)" font-size="38.5" fill="#98999b">l</text>
<text transform="translate(923.38,962) scale(1.173,1.063)" font-size="38.5" fill="#98999b">e</text>
<text transform="translate(949.24,962) scale(0.804,1.063)" font-size="38.5" fill="#98999b">s</text>

</svg>
</body></html>
